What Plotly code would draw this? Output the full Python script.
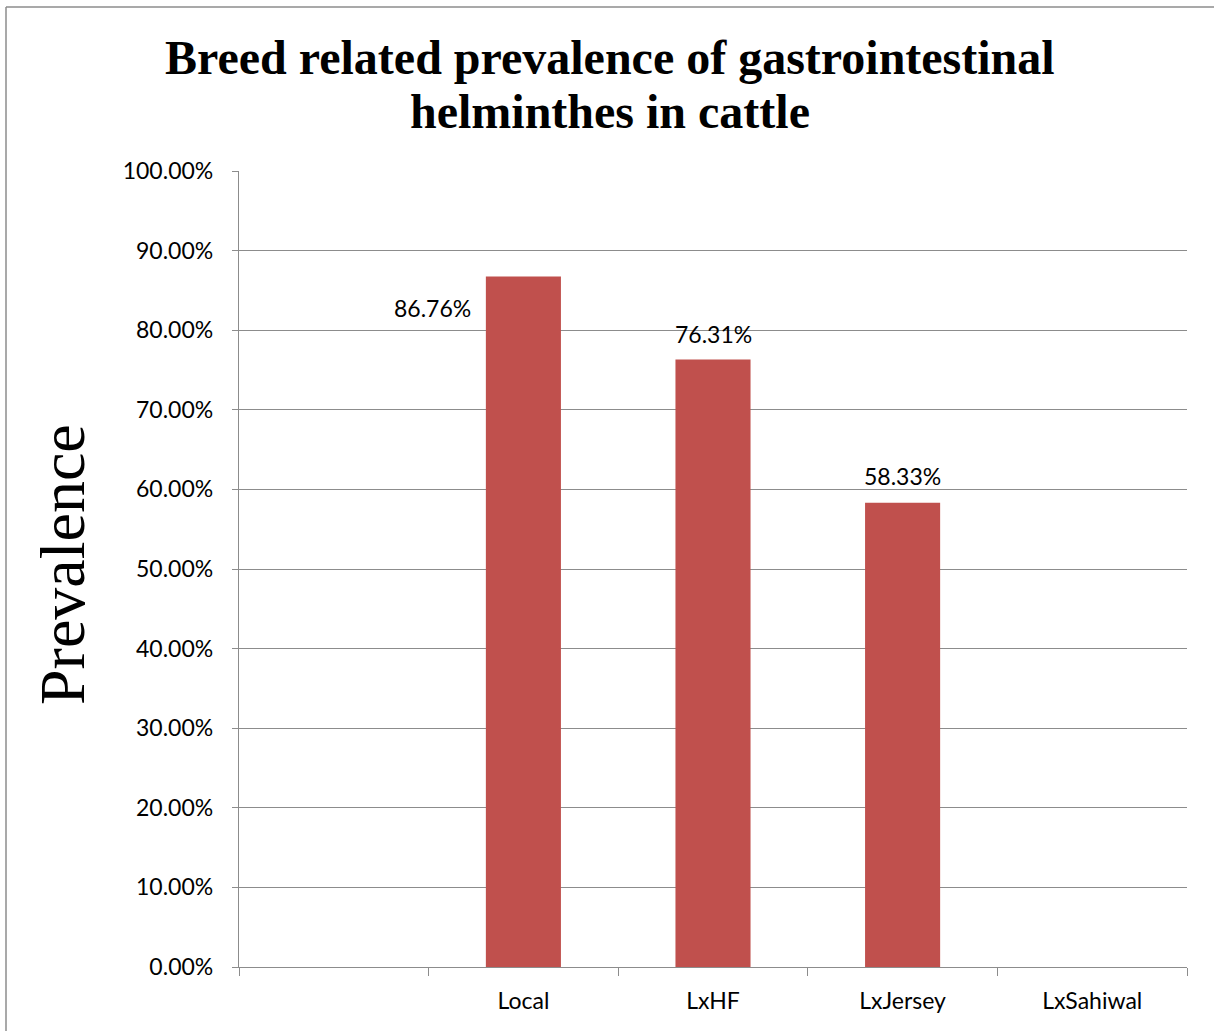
import plotly.graph_objects as go

# Breed categories (the first slot is an unlabeled placeholder)
breeds = [" ", "Local", "LxHF", "LxJersey", "LxSahiwal"]
prevalence = [None, 0.8676, 0.7631, 0.5833, None]
label_text = ["", "86.76%", "76.31%", "58.33%", ""]

# Per-label offsets in pixels (x, y) relative to the bar top
label_offsets = [(0, 0), (-91, -32), (0, 26), (0, 27), (0, 0)]

title_lines = ["Breed related prevalence of gastrointestinal", "helminthes in cattle"]

W, H = 1214, 1031
L, R, T, B = 239, 27, 171, 64
plot_w = W - L - R
plot_h = H - T - B

BAR = "#C0504D"
GRID = "#8c8c8c"
TXT_FONT = "Lato"


def px_x(x):
    return (x - L) / plot_w


def px_y(y):
    return (H - B - y) / plot_h


fig = go.Figure()
fig.add_trace(go.Bar(
    x=breeds,
    y=prevalence,
    marker=dict(color=BAR, line=dict(width=0)),
    hoverinfo="x+y",
))

annotations = []
for b, v, t, (dx, dy) in zip(breeds, prevalence, label_text, label_offsets):
    if v is None or not t:
        continue
    annotations.append(dict(
        x=b, y=v, xref="x", yref="y", text=t, showarrow=False,
        xanchor="center", yanchor="middle", xshift=dx, yshift=dy,
        font=dict(family=TXT_FONT, size=23, color="#000000"),
    ))

# Chart title, one annotation per line for tight line spacing
for line, yc in zip(title_lines, [57, 111]):
    annotations.append(dict(
        x=px_x(610), y=px_y(yc), xref="paper", yref="paper",
        text="<b>" + line + "</b>",
        showarrow=False, xanchor="center", yanchor="middle",
        font=dict(family="Liberation Serif", size=48, color="#000000"),
    ))

# Vertical axis title
annotations.append(dict(
    x=px_x(62), y=px_y(565), xref="paper", yref="paper",
    text="Prevalence", textangle=-90, showarrow=False,
    xanchor="center", yanchor="middle",
    font=dict(family="Liberation Serif", size=64, color="#000000"),
))

# Outer chart border (left and top edges)
shapes = [
    dict(type="line", xref="paper", yref="paper",
         x0=px_x(6), x1=px_x(6), y0=px_y(7), y1=px_y(H + 5),
         line=dict(color=GRID, width=1.5)),
    dict(type="line", xref="paper", yref="paper",
         x0=px_x(6), x1=px_x(W + 5), y0=px_y(7), y1=px_y(7),
         line=dict(color=GRID, width=1.5)),
]

fig.update_layout(
    width=W, height=H,
    margin=dict(l=L, r=R, t=T, b=B, pad=0),
    paper_bgcolor="white", plot_bgcolor="white",
    showlegend=False,
    bargap=0.604,
    annotations=annotations,
    shapes=shapes,
    font=dict(family=TXT_FONT, size=23, color="#000000"),
)

fig.update_xaxes(
    type="category",
    categoryorder="array", categoryarray=breeds,
    showline=True, linecolor=GRID, linewidth=1.3,
    ticks="outside", ticklen=8, tickcolor=GRID, tickwidth=1.3,
    tickson="boundaries",
    showgrid=False,
    ticklabelstandoff=13,
    tickfont=dict(family=TXT_FONT, size=23, color="#000000"),
)

fig.update_yaxes(
    range=[0, 1.0],
    tickvals=[i / 10 for i in range(11)],
    tickformat=".2%",
    showline=True, linecolor=GRID, linewidth=1.3,
    ticks="outside", ticklen=6, tickcolor=GRID, tickwidth=1.3,
    showgrid=True, gridcolor=GRID, gridwidth=1.3,
    zeroline=False,
    ticklabelstandoff=14,
    tickfont=dict(family=TXT_FONT, size=23, color="#000000"),
)

fig.write_html("out.html")
